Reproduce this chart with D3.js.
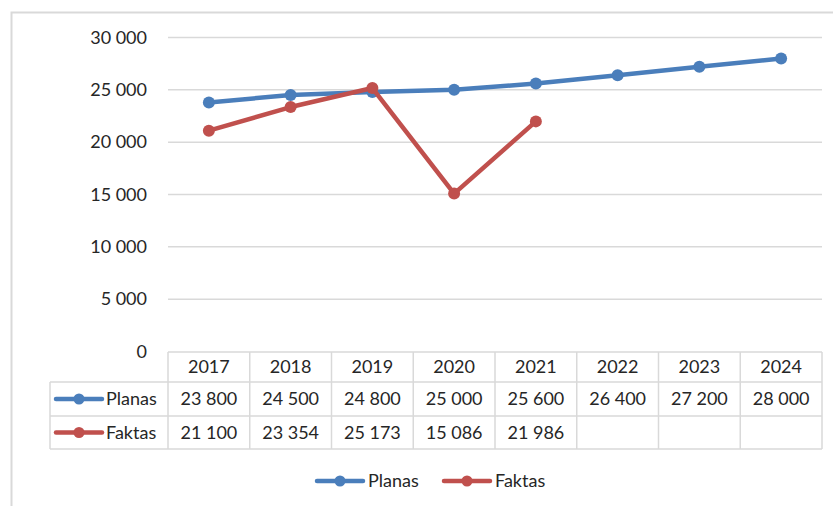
<!DOCTYPE html>
<html>
<head>
<meta charset="utf-8">
<script src="https://cdn.jsdelivr.net/npm/d3@7"></script>
<style>
  body { margin: 0; background: #fff; }
  svg text { font-family: Lato, "Open Sans", sans-serif; fill: #262626; }
</style>
</head>
<body>
<div id="chart-area"></div>
<script>
// data
let years = ["2017", "2018", "2019", "2020", "2021", "2022", "2023", "2024"];
let planas = [23800, 24500, 24800, 25000, 25600, 26400, 27200, 28000];
let faktas = [21100, 23354, 25173, 15086, 21986];
let yTicks = [0, 5000, 10000, 15000, 20000, 25000, 30000];
let seriesNames = ["Planas", "Faktas"];
let seriesColors = ["#4a7ebb", "#c0504d"];

let width = 833, height = 506;
let fontSize = 18;

let svg = d3.select("#chart-area")
    .append("svg")
    .attr("width", width)
    .attr("height", height);

// chart border (only top/left visible in the crop)
svg.append("rect")
    .attr("x", 11.5).attr("y", 12.5)
    .attr("width", 900).attr("height", 600)
    .attr("fill", "none")
    .attr("stroke", "#d9d9d9")
    .attr("stroke-width", 2);

let x = d3.scaleBand().domain(years).range([168, 822]);
let y = d3.scaleLinear().domain([0, 30000]).range([351.5, 37.5]);

let loc = d3.formatLocale({decimal: ",", thousands: "\u00a0", grouping: [3], currency: ["", ""]});
let fmt = loc.format(",d");

// gridlines
svg.selectAll(".grid")
    .data(yTicks.filter(d => d > 0))
    .enter().append("line")
    .attr("class", "grid")
    .attr("x1", 168).attr("x2", 822)
    .attr("y1", d => y(d)).attr("y2", d => y(d))
    .attr("stroke", "#d9d9d9")
    .attr("stroke-width", 1.5);

// y axis labels
svg.selectAll(".ylab")
    .data(yTicks)
    .enter().append("text")
    .attr("class", "ylab")
    .attr("x", 147)
    .attr("y", d => y(d))
    .attr("dy", "0.35em")
    .attr("text-anchor", "end")
    .style("font-size", fontSize + "px")
    .text(d => fmt(d));

// data table
let rowTops = [352, 382, 416, 449];
let tableLeft = 50;
let border = "#d9d9d9";

function hline(x1, x2, yy) {
    svg.append("line").attr("x1", x1).attr("x2", x2).attr("y1", yy).attr("y2", yy)
        .attr("stroke", border).attr("stroke-width", 1.5);
}
function vline(xx, y1, y2) {
    svg.append("line").attr("x1", xx).attr("x2", xx).attr("y1", y1).attr("y2", y2)
        .attr("stroke", border).attr("stroke-width", 1.5);
}

hline(168, 822, rowTops[0]);
hline(tableLeft, 822, rowTops[1]);
hline(tableLeft, 822, rowTops[2]);
hline(tableLeft, 822, rowTops[3]);
vline(tableLeft, rowTops[1], rowTops[3]);
years.forEach(yr => vline(x(yr), rowTops[0], rowTops[3]));
vline(822, rowTops[0], rowTops[3]);

// header years
svg.selectAll(".yr")
    .data(years)
    .enter().append("text")
    .attr("class", "yr")
    .attr("x", d => x(d) + x.bandwidth() / 2)
    .attr("y", (rowTops[0] + rowTops[1]) / 2)
    .attr("dy", "0.35em")
    .attr("text-anchor", "middle")
    .style("font-size", fontSize + "px")
    .text(d => d);

function legendKey(cx, cy, color) {
    svg.append("line")
        .attr("x1", cx - 23).attr("x2", cx + 23)
        .attr("y1", cy).attr("y2", cy)
        .attr("stroke", color).attr("stroke-width", 4.5)
        .attr("stroke-linecap", "round");
    svg.append("circle")
        .attr("cx", cx).attr("cy", cy).attr("r", 5.5)
        .attr("fill", color);
}

[planas, faktas].forEach((vals, i) => {
    let cy = (rowTops[i + 1] + rowTops[i + 2]) / 2;
    legendKey(79, cy, seriesColors[i]);
    svg.append("text")
        .attr("x", 106).attr("y", cy).attr("dy", "0.35em")
        .style("font-size", fontSize + "px")
        .text(seriesNames[i]);
    svg.selectAll(".val" + i)
        .data(vals)
        .enter().append("text")
        .attr("class", "val" + i)
        .attr("x", (d, j) => x(years[j]) + x.bandwidth() / 2)
        .attr("y", cy)
        .attr("dy", "0.35em")
        .attr("text-anchor", "middle")
        .style("font-size", fontSize + "px")
        .text(d => fmt(d));
});

// lines + markers
let line = d3.line()
    .x((d, i) => x(years[i]) + x.bandwidth() / 2)
    .y(d => y(d));

[planas, faktas].forEach((vals, i) => {
    svg.append("path")
        .datum(vals)
        .attr("d", line)
        .attr("fill", "none")
        .attr("stroke", seriesColors[i])
        .attr("stroke-width", 4.5)
        .attr("stroke-linejoin", "round")
        .attr("stroke-linecap", "round");
    svg.selectAll(".dot" + i)
        .data(vals)
        .enter().append("circle")
        .attr("class", "dot" + i)
        .attr("cx", (d, j) => x(years[j]) + x.bandwidth() / 2)
        .attr("cy", d => y(d))
        .attr("r", 6)
        .attr("fill", seriesColors[i]);
});

// bottom legend
let legendY = 481;
let legendX = [340, 467];
seriesNames.forEach((name, i) => {
    legendKey(legendX[i], legendY, seriesColors[i]);
    svg.append("text")
        .attr("x", legendX[i] + 28).attr("y", legendY).attr("dy", "0.35em")
        .style("font-size", fontSize + "px")
        .text(name);
});
</script>
</body>
</html>
